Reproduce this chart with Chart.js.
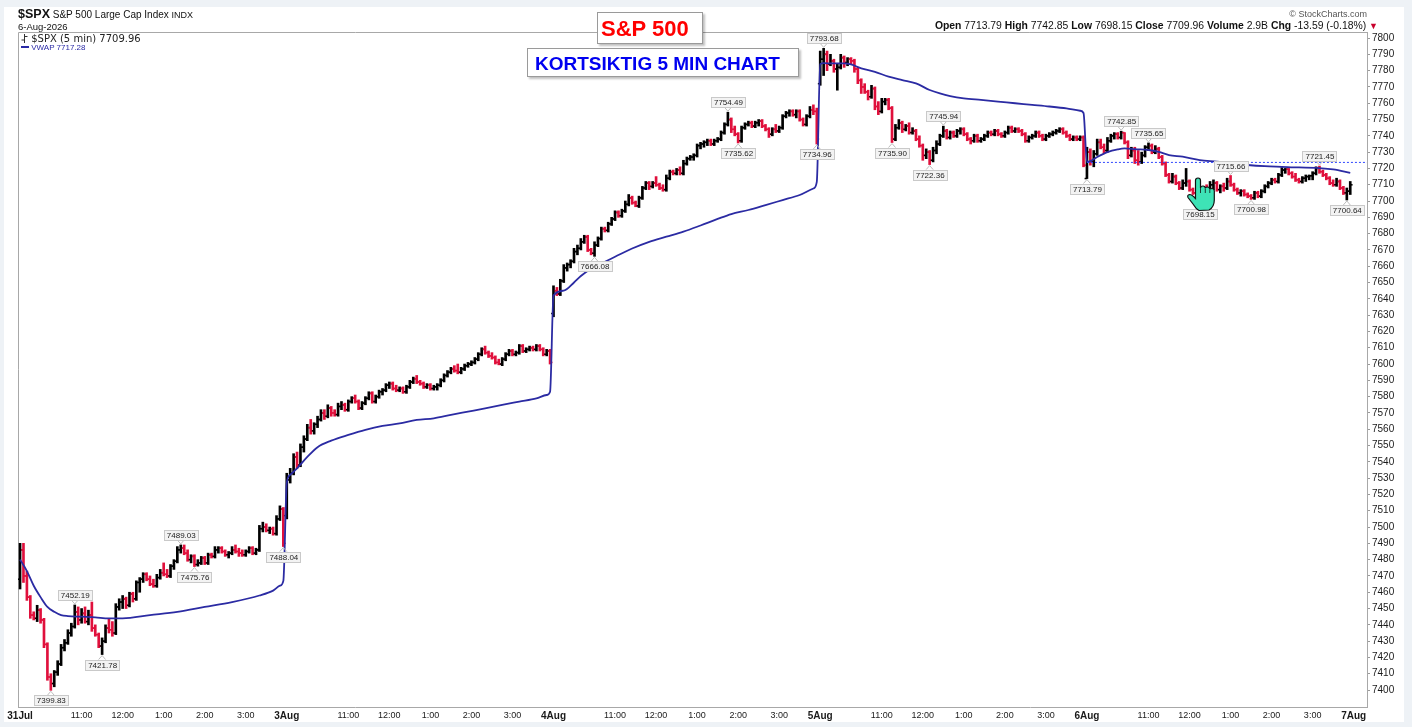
<!DOCTYPE html>
<html>
<head>
<meta charset="utf-8">
<title>$SPX 5 min</title>
<script src="https://cdn.jsdelivr.net/npm/chart.js@4.4.0/dist/chart.umd.min.js"></script>
<style>
  html, body { margin: 0; padding: 0; width: 1412px; height: 727px; overflow: hidden; background: #eef2f6; font-family: Arial, "Liberation Sans", sans-serif; }
  #panel { position: absolute; left: 4px; top: 7px; width: 1400px; height: 715px; background: #fff; }
  #wrap { position: absolute; left: 0; top: 0; width: 1412px; height: 727px; }
  .abs { position: absolute; white-space: nowrap; color: #111; }
  .box { position: absolute; background: #fff; border: 1px solid #9a9a9a; box-shadow: 2px 2px 2px rgba(0,0,0,0.25); font-weight: bold; white-space: nowrap; }
</style>
</head>
<body>
<div id="panel"></div>
<div id="wrap"><canvas id="chart"></canvas></div>

<div class="abs" style="left:18px;top:7px;font-size:10px;"><b style="font-size:12.5px;">$SPX</b> S&amp;P 500 Large Cap Index <span style="font-size:9px;">INDX</span></div>
<div class="abs" style="left:18px;top:21px;font-size:9.5px;">6-Aug-2026</div>
<div class="abs" style="left:21px;top:33px;font-size:10px;font-family:'DejaVu Sans',sans-serif;color:#222;"><svg width="7" height="9" style="vertical-align:-1px"><path d="M3.5 0V9M0.5 6H3.5M3.5 2.5H6.5" stroke="#333" fill="none"/></svg> $SPX (5 min) 7709.96</div>
<div class="abs" style="left:21px;top:43px;font-size:8px;color:#2a2aa6;"><span style="display:inline-block;width:8px;border-top:2px solid #2a2aa6;vertical-align:2px"></span> VWAP 7717.28</div>

<div class="abs" style="right:45px;top:9px;font-size:9px;color:#555;">&copy; StockCharts.com</div>
<div class="abs" style="right:34px;top:20px;font-size:10.4px;"><b>Open</b> 7713.79 <b>High</b> 7742.85 <b>Low</b> 7698.15 <b>Close</b> 7709.96 <b>Volume</b> 2.9B <b>Chg</b> -13.59 (-0.18%) <span style="color:#c8002c;font-size:9px;">&#9660;</span></div>

<div class="box" style="left:597px;top:12px;width:106px;height:32px;line-height:32px;color:#ff0000;font-size:22px;padding-left:3px;box-sizing:border-box;">S&amp;P 500</div>
<div class="box" style="left:527px;top:48px;width:272px;height:29px;line-height:29px;color:#0000f0;font-size:19px;padding-left:7px;box-sizing:border-box;">KORTSIKTIG 5 MIN CHART</div>

<script>
// 5-minute bars, 78 per session: 31 Jul, 3 Aug, 4 Aug, 5 Aug, 6 Aug
const opens = [
  7468,7486,7470,7457,7446,7444,7449,7443,7428,7408, 7404,7411,7416,7426,7429,7435,7439,7448,7443,7447, 7442,7446,7438,7434,7427,7430,7438,7437,7435,7451, 7454,7456,7452,7459,7456,7466,7468,7471,7468,7465, 7464,7469,7472,7471,7470,7476,7479,7486,7487,7484, 7480,7482,7477,7478,7481,7478,7483,7482,7486,7487, 7485,7483,7484,7486,7485,7484,7483,7485,7487,7484, 7486,7499,7500,7498,7499,7496,7505,7511,
  7507,7529,7533,7543,7538,7549,7554,7561,7559,7563, 7566,7570,7568,7573,7570,7569,7574,7575,7572,7577, 7579,7577,7573,7576,7579,7582,7577,7580,7583,7584, 7587,7588,7585,7584,7585,7583,7586,7589,7591,7589, 7588,7586,7587,7585,7586,7587,7590,7593,7595,7597, 7596,7595,7597,7599,7600,7601,7603,7606,7609,7607, 7605,7604,7601,7600,7603,7606,7608,7606,7607,7611, 7608,7609,7610,7609,7611,7609,7606,7608,
  7631,7645,7643,7651,7659,7661,7663,7669,7671,7675, 7678,7670,7668,7673,7677,7683,7682,7686,7689,7693, 7691,7694,7698,7702,7699,7697,7702,7708,7711,7709, 7711,7710,7708,7707,7714,7718,7717,7719,7717,7723, 7726,7727,7728,7734,7735,7736,7737,7735,7737,7738, 7742,7747,7750,7744,7741,7737,7745,7747,7748,7746, 7748,7749,7746,7744,7741,7744,7743,7745,7752,7754, 7755,7753,7755,7750,7747,7752,7756,7755,
  7772,7787,7790,7784,7786,7781,7782,7788,7785,7787, 7786,7781,7774,7770,7767,7764,7769,7758,7755,7761, 7762,7757,7738,7745,7748,7744,7746,7742,7743,7738, 7734,7728,7730,7725,7731,7735,7740,7743,7739,7742, 7740,7743,7744,7741,7738,7737,7740,7737,7738,7740, 7742,7741,7743,7741,7740,7742,7745,7743,7744,7743, 7741,7737,7739,7740,7742,7740,7738,7740,7741,7742, 7743,7744,7742,7740,7738,7739,7738,7739,
  7713.79,7730,7724,7729,7736,7733,7731,7737,7740,7741, 7739,7742,7736,7728,7731,7725,7724,7728,7733,7734, 7730,7732,7727,7723,7716,7712,7715,7711,7708,7711, 7712,7707,7705,7701,7702,7706,7704,7710,7711,7707, 7709,7708,7712,7710,7707,7705,7706,7704,7703,7702, 7705,7703,7706,7709,7711,7713,7712,7716,7719,7719.5, 7717,7715,7713,7712,7714,7715,7715.5,7717,7720,7718, 7716,7714,7711,7710,7712,7708,7705,7706
];
const highs = [
  7490,7490,7473,7458,7448,7452,7450,7444,7429,7410, 7412,7418,7428,7431,7437,7441,7452.19,7451,7450,7451, 7449,7454,7440,7435,7432,7440,7444,7442,7453,7456, 7458,7457,7460,7460,7467,7469,7472,7472,7470,7468, 7471,7474,7478,7474,7477,7480,7488,7489.03,7489,7486, 7483,7483,7480,7482,7482,7484,7484,7488,7488,7488, 7486,7485,7488,7489,7487,7486,7486,7488,7488,7487, 7501,7503,7502,7500,7500,7507,7513,7512,
  7533,7536,7545,7546,7551,7556,7563,7566,7564,7568, 7572,7572,7575,7574,7572,7576,7577,7576,7578,7580, 7581,7578,7577,7580,7583,7583,7581,7584,7585,7588, 7589,7589,7587,7586,7586,7587,7590,7592,7593,7590, 7589,7588,7588,7587,7588,7591,7594,7596,7598,7599, 7600,7598,7600,7601,7602,7604,7607,7610,7611,7608, 7607,7605,7603,7604,7607,7609,7609,7608,7612,7612, 7610,7611,7611,7612,7612,7610,7609,7609,
  7648,7647,7652,7661,7662,7664,7671,7673,7677,7679, 7679,7671,7675,7678,7684,7684,7687,7690,7694,7694, 7695,7700,7704,7703,7700,7703,7709,7712,7712,7712, 7715,7711,7710,7716,7719,7719,7720,7721,7725,7727, 7728,7729,7735,7736,7737,7738,7738,7738,7739,7743, 7748,7754.49,7751,7746,7742,7746,7748,7749,7749,7749, 7750,7750,7747,7745,7745,7747,7746,7753,7755,7756, 7756,7756,7756,7751,7753,7758,7759,7757,
  7792,7793.68,7792,7790,7787,7784,7790,7789,7788,7788, 7787,7782,7775,7772,7768,7771,7770,7761,7763,7763, 7763,7758,7747,7750,7749,7747,7748,7745,7744,7740, 7735,7732,7731,7733,7737,7741,7745.94,7744,7743,7743, 7744,7745,7745,7742,7739,7741,7741,7739,7741,7743, 7743,7744,7744,7742,7743,7746,7746,7745,7745,7744, 7742,7740,7741,7743,7743,7741,7741,7742,7743,7744, 7745,7745,7743,7741,7740,7740,7740,7740,
  7733,7732,7731,7738,7738,7735,7739,7741,7742,7742, 7742.85,7742,7737,7733,7733,7731,7730,7734,7735.65,7735, 7734,7733,7728,7724,7717,7717,7716,7712,7713,7720, 7713,7708,7706,7703,7708,7710,7712,7713,7712,7710, 7711,7714,7715.66,7711,7708,7707,7707,7705,7704,7706, 7706,7707,7710,7712,7714,7714,7717,7720.5,7720,7720, 7718,7717,7714,7715,7716,7716,7718,7721,7721.45,7719, 7717,7715,7713,7714,7713,7709,7708,7712
];
const lows = [
  7462,7466,7455,7444,7443,7442,7441,7426,7406,7399.83, 7402,7409,7415,7424,7428,7433,7438,7440,7441,7441, 7440,7436,7433,7426,7421.78,7429,7435,7433,7434,7449, 7450,7450,7451,7454,7455,7460,7466,7467,7464,7463, 7463,7468,7470,7469,7469,7474,7478,7484,7483,7479, 7478,7475.76,7476,7477,7477,7477,7481,7481,7484,7484, 7482,7481,7483,7484,7482,7482,7482,7484,7483,7483, 7485,7497,7497,7496,7495,7495,7504,7488.04,
  7505,7527,7532,7536,7537,7546,7553,7557,7557,7561, 7565,7566,7567,7568,7568,7568,7572,7571,7571,7576, 7576,7572,7572,7575,7578,7576,7576,7579,7581,7583, 7585,7584,7583,7583,7582,7582,7585,7588,7588,7587, 7585,7585,7584,7584,7584,7586,7589,7592,7594,7595, 7594,7594,7596,7598,7599,7600,7602,7605,7606,7604, 7603,7600,7599.5,7599,7602,7605,7605,7605,7606,7607, 7607,7608,7608,7608,7608,7605,7605,7600,
  7629,7642,7642,7650,7657,7659,7662,7667,7670,7674, 7669,7667,7666.08,7672,7676,7681,7681,7685,7688,7690, 7690,7693,7697,7698,7696.5,7696,7701,7707,7707,7708, 7709,7707,7706,7706,7713,7716,7716,7716,7716,7722, 7725,7725,7727,7732,7733,7734,7734,7734,7736,7737, 7741,7746,7742,7740,7735.62,7736,7744,7746,7745,7745, 7746,7745,7743,7739,7740,7742,7742,7744,7751,7752, 7752,7751,7749,7746,7746,7751,7753,7734.96,
  7771,7777,7780,7783,7779,7768,7781,7782,7783,7784, 7779,7772,7766,7766,7762,7763,7756,7753,7754,7759, 7756,7735.90,7737,7744,7742,7743,7741,7741,7737,7733, 7725,7726,7722.36,7724,7729,7734,7739,7738,7738,7739, 7739,7741,7740,7737,7735,7736,7736,7736,7737,7739, 7740,7740,7740,7739,7739,7741,7742,7742,7742,7740, 7736,7736,7738,7739,7739,7737,7737,7739,7740,7741, 7742,7741,7739,7737,7737,7737,7737,7721,
  7713.79,7722,7721,7728,7732,7729,7730,7736,7738,7738, 7738,7735,7726,7727,7723,7722,7723,7727,7731,7729, 7729,7726,7722,7715,7711,7711,7710,7707,7707,7709, 7706,7704,7700,7698.15,7701,7703,7703,7707,7706,7705, 7706,7707,7709,7706,7704,7703,7703,7702,7700.98,7701, 7702,7702,7705,7708,7710,7711,7711,7715,7717,7716, 7714,7712,7711,7711,7712,7713,7713,7716,7717,7715, 7713,7710,7709,7709,7707,7704,7700.64,7704
];
const closes = [
  7486,7470,7457,7446,7444,7449,7443,7428,7408,7404, 7411,7416,7426,7429,7435,7439,7448,7443,7447,7442, 7446,7438,7434,7427,7430,7438,7437,7435,7451,7454, 7456,7452,7459,7456,7466,7468,7471,7468,7465,7464, 7469,7472,7471,7470,7476,7479,7486,7487,7484,7480, 7482,7477,7478,7481,7478,7483,7482,7486,7487,7485, 7483,7484,7486,7485,7484,7483,7485,7487,7484,7486, 7499,7500,7498,7499,7496,7505,7511,7490,
  7529,7533,7543,7538,7549,7554,7561,7559,7563,7566, 7570,7568,7573,7570,7569,7574,7575,7572,7577,7579, 7577,7573,7576,7579,7582,7577,7580,7583,7584,7587, 7588,7585,7584,7585,7583,7586,7589,7591,7589,7588, 7586,7587,7585,7586,7587,7590,7593,7595,7597,7596, 7595,7597,7599,7600,7601,7603,7606,7609,7607,7605, 7604,7601,7600,7603,7606,7608,7606,7607,7611,7608, 7609,7610,7609,7611,7609,7606,7608,7601,
  7645,7643,7651,7659,7661,7663,7669,7671,7675,7678, 7670,7668,7673,7677,7683,7682,7686,7689,7693,7691, 7694,7698,7702,7699,7697,7702,7708,7711,7709,7711, 7710,7708,7707,7714,7718,7717,7719,7717,7723,7726, 7727,7728,7734,7735,7736,7737,7735,7737,7738,7742, 7747,7750,7744,7741,7737,7745,7747,7748,7746,7748, 7749,7746,7744,7741,7744,7743,7745,7752,7754,7755, 7753,7755,7750,7747,7752,7756,7755,7738,
  7787,7790,7784,7786,7781,7782,7788,7785,7787,7786, 7781,7774,7770,7767,7764,7769,7758,7755,7761,7762, 7757,7738,7745,7748,7744,7746,7742,7743,7738,7734, 7728,7730,7725,7731,7735,7740,7743,7739,7742,7740, 7743,7744,7741,7738,7737,7740,7737,7738,7740,7742, 7741,7743,7741,7740,7742,7745,7743,7744,7743,7741, 7737,7739,7740,7742,7740,7738,7740,7741,7742,7743, 7744,7742,7740,7738,7739,7738,7739,7722,
  7730,7724,7729,7736,7733,7731,7737,7740,7741,7739, 7742,7736,7728,7731,7725,7724,7728,7733,7734,7730, 7732,7727,7723,7716,7712,7715,7711,7708,7711,7712, 7707,7705,7701,7702,7706,7704,7710,7711,7707,7709, 7708,7712,7710,7707,7705,7706,7704,7703,7702,7705, 7703,7706,7709,7711,7713,7712,7716,7719,7719.5,7717, 7715,7713,7712,7714,7715,7715.5,7717,7720,7718,7716, 7714,7711,7710,7712,7708,7705,7706,7709.96
];

// VWAP (resets each session), read at these bar indexes
const vwapIdx = [0,2,4,6,8,10,12,14,18,22,26,30,38,46,54,62,70,74,76,77,
  78,79,81,84,87,91,96,101,106,111,116,121,126,131,136,141,146,151,154,155,
  156,159,162,164,167,170,174,179,184,189,194,199,204,208,213,218,223,228,232,233,
  234,235,238,241,243,246,250,254,258,262,266,269,272,276,281,286,291,296,301,306,310,311,
  312,313,315,318,321,323,326,330,333,336,340,345,350,354,359,364,369,374,379,384,389];
const vwapVal = [7480,7473,7464,7457,7451,7448,7446,7445.4,7445,7444.6,7444,7444,7446,7448,7451,7454,7458,7461,7464,7467,
  7527,7532,7536,7543,7549,7553,7556.5,7559.6,7562,7563.6,7565.7,7566.7,7568.8,7570.8,7572.8,7575,7577,7579,7581,7583,
  7642,7645,7650,7654,7658.5,7661.7,7665.8,7670.9,7675,7678.1,7681.2,7685,7689,7692,7694.5,7697.5,7700.6,7703.7,7707.7,7711.8,
  7784,7784.6,7784.4,7784.4,7783.8,7781.4,7779.3,7776.3,7774.2,7772.2,7768.1,7766,7764.4,7763,7762,7761,7760,7759,7758,7756.8,7755.4,7754,
  7724,7724.5,7727,7730,7731.7,7732.3,7731.8,7731.3,7730.2,7728.2,7727.2,7725.1,7724.1,7723.1,7722.1,7721.4,7721,7720.6,7720.4,7719.4,7717.28];

// dotted level line on the last session
const levelIdx = [312, 394];
const levelVal = 7723.7;

// swing labels
const labelIdx = [9,16,24,47,51,77,168,207,210,233,235,255,266,270,312,322,330,345,354,360,380,388];
const labelVal = [7399.83,7452.19,7421.78,7489.03,7475.76,7488.04,7666.08,7754.49,7735.62,7734.96,7793.68,7735.90,7722.36,7745.94,7713.79,7742.85,7735.65,7698.15,7715.66,7700.98,7721.45,7700.64];
const labelSide = ['b','a','b','a','b','b','b','a','b','b','a','b','b','a','b','a','a','b','a','b','a','b'];

// x axis ticks
const xTickIdx = [0,18,30,42,54,66, 78,96,108,120,132,144, 156,174,186,198,210,222, 234,252,264,276,288,300, 312,330,342,354,366,378, 390];
const xTickText = ['31Jul','11:00','12:00','1:00','2:00','3:00', '3Aug','11:00','12:00','1:00','2:00','3:00', '4Aug','11:00','12:00','1:00','2:00','3:00', '5Aug','11:00','12:00','1:00','2:00','3:00', '6Aug','11:00','12:00','1:00','2:00','3:00', '7Aug'];

// y axis ticks: every 10 points
const yTickFirst = 7400, yTickLast = 7800, yTickStep = 10;

const UP = '#000000', DOWN = '#e0103c', FONT = 'Arial, "Liberation Sans", sans-serif';
const barColors = closes.map((c, i) => (c >= (i ? closes[i - 1] : opens[i]) ? UP : DOWN));

const frame = {
  id: 'frame',
  beforeDatasetsDraw(chart) {
    const { ctx, chartArea: a } = chart;
    ctx.save();
    ctx.strokeStyle = '#a8a8a8';
    ctx.lineWidth = 1;
    ctx.beginPath();
    ctx.moveTo(Math.round(a.left) + 0.5, a.bottom);
    ctx.lineTo(Math.round(a.left) + 0.5, Math.round(a.top) + 0.5);
    ctx.lineTo(a.right, Math.round(a.top) + 0.5);
    ctx.stroke();
    ctx.restore();
  }
};

const priceLabels = {
  id: 'priceLabels',
  afterDatasetsDraw(chart) {
    const { ctx, scales: { x, y } } = chart;
    ctx.save();
    ctx.font = '8px ' + FONT;
    ctx.textAlign = 'center';
    ctx.textBaseline = 'middle';
    labelIdx.forEach((idx, k) => {
      const v = labelVal[k];
      const px = x.getPixelForValue(idx), py = y.getPixelForValue(v);
      const txt = v.toFixed(2);
      const w = Math.round(ctx.measureText(txt).width + 5), h = 10;
      const up = labelSide[k] === 'a';
      const edge = up ? py - 5 : py + 5;
      const top = Math.round(up ? edge - h : edge);
      const left = Math.round(px - w / 2);
      ctx.strokeStyle = '#bdbdbd';
      ctx.lineWidth = 1;
      ctx.beginPath();
      ctx.moveTo(px - 3.5, edge);
      ctx.lineTo(px, up ? py - 1 : py + 1);
      ctx.lineTo(px + 3.5, edge);
      ctx.stroke();
      ctx.fillStyle = '#f3f3f3';
      ctx.fillRect(left, top, w, h);
      ctx.strokeStyle = '#c9c9c9';
      ctx.strokeRect(left + 0.5, top + 0.5, w, h);
      ctx.fillStyle = '#222';
      ctx.fillText(txt, px + 0.5, top + h / 2 + 1);
    });
    ctx.restore();
  }
};

// mouse pointer captured in the screenshot
const cursor = {
  id: 'cursor',
  afterDraw(chart) {
    const ctx = chart.ctx;
    ctx.save();
    ctx.beginPath();
    ctx.moveTo(1195.5, 190);
    ctx.lineTo(1195.5, 180.5);
    ctx.quadraticCurveTo(1195.5, 178, 1198, 178);
    ctx.quadraticCurveTo(1200.5, 178, 1200.5, 180.5);
    ctx.lineTo(1200.5, 188);
    ctx.quadraticCurveTo(1200.5, 186, 1203, 186);
    ctx.quadraticCurveTo(1205.3, 186, 1205.3, 188.5);
    ctx.quadraticCurveTo(1205.3, 187, 1207.5, 187);
    ctx.quadraticCurveTo(1209.8, 187, 1209.8, 189.5);
    ctx.quadraticCurveTo(1209.8, 188.5, 1212, 188.5);
    ctx.quadraticCurveTo(1214.3, 188.5, 1214.3, 191);
    ctx.lineTo(1214.3, 200);
    ctx.quadraticCurveTo(1214.3, 207, 1209, 210);
    ctx.lineTo(1199, 210.5);
    ctx.quadraticCurveTo(1196, 209, 1193, 204);
    ctx.lineTo(1188, 197.5);
    ctx.quadraticCurveTo(1187, 195, 1189.5, 194.5);
    ctx.quadraticCurveTo(1192, 194.5, 1195.5, 198.5);
    ctx.closePath();
    ctx.fillStyle = '#3ee3b6';
    ctx.fill();
    ctx.strokeStyle = '#111';
    ctx.lineWidth = 1.2;
    ctx.stroke();
    ctx.beginPath();
    ctx.moveTo(1200.5, 188); ctx.lineTo(1200.5, 193);
    ctx.moveTo(1205.3, 189); ctx.lineTo(1205.3, 193);
    ctx.moveTo(1209.8, 190); ctx.lineTo(1209.8, 193);
    ctx.lineWidth = 0.8;
    ctx.stroke();
    ctx.restore();
  }
};

new Chart(document.getElementById('chart'), {
  type: 'bar',
  data: {
    datasets: [
      {
        type: 'line', order: 0,
        data: levelIdx.map(i => ({ x: i, y: levelVal })),
        borderColor: '#2f47ff', borderWidth: 1, borderDash: [2, 2], pointRadius: 0
      },
      {
        type: 'line', order: 0,
        data: vwapIdx.map((i, k) => ({ x: i, y: vwapVal[k] })),
        borderColor: '#2b2ba3', borderWidth: 1.8, pointRadius: 0,
        cubicInterpolationMode: 'monotone'
      },
      {
        type: 'scatter', order: 1,
        data: opens.map((o, i) => ({ x: i - 0.34, y: o })),
        pointStyle: 'line', pointRadius: 1.2, pointBorderWidth: 1.5,
        pointBorderColor: barColors, pointBackgroundColor: barColors, pointHoverRadius: 0
      },
      {
        type: 'scatter', order: 1,
        data: closes.map((c, i) => ({ x: i + 0.34, y: c })),
        pointStyle: 'line', pointRadius: 1.2, pointBorderWidth: 1.5,
        pointBorderColor: barColors, pointBackgroundColor: barColors, pointHoverRadius: 0
      },
      {
        type: 'bar', order: 2,
        data: highs.map((h, i) => ({ x: i, y: [lows[i], h] })),
        backgroundColor: barColors, barThickness: 2, borderWidth: 0
      }
    ]
  },
  options: {
    responsive: true,
    maintainAspectRatio: false,
    animation: false,
    devicePixelRatio: 1,
    events: [],
    layout: { padding: { left: 18, top: 32, right: 9, bottom: 5 } },
    plugins: { legend: { display: false }, tooltip: { enabled: false } },
    scales: {
      x: {
        type: 'linear', min: -0.6, max: 393.9, offset: false,
        afterBuildTicks: s => { s.ticks = xTickIdx.map(v => ({ value: v })); },
        afterFit: s => { s.height = 15; },
        ticks: {
          autoSkip: false, maxRotation: 0, padding: 3, color: '#1a1a1a',
          callback: (v, i) => xTickText[i],
          font: c => /[a-z]/i.test(xTickText[c.index] || '') ?
            { family: FONT, size: 10, weight: 'bold' } : { family: FONT, size: 9 }
        },
        grid: { drawOnChartArea: false, drawTicks: false },
        border: { display: true, color: '#a8a8a8', dash: [1, 2] }
      },
      y: {
        position: 'right', min: 7389.6, max: 7803.7,
        afterBuildTicks: s => {
          const t = [];
          for (let v = yTickFirst; v <= yTickLast; v += yTickStep) t.push({ value: v });
          s.ticks = t;
        },
        afterFit: s => { s.width = 36; },
        ticks: {
          padding: 2, color: '#1a1a1a',
          font: { family: FONT, size: 10 },
          callback: v => String(v)
        },
        grid: { drawOnChartArea: false, tickLength: 3, tickColor: '#9a9a9a' },
        border: { display: true, color: '#a8a8a8', dash: [1, 2] }
      }
    }
  },
  plugins: [frame, priceLabels, cursor]
});
</script>
</body>
</html>
